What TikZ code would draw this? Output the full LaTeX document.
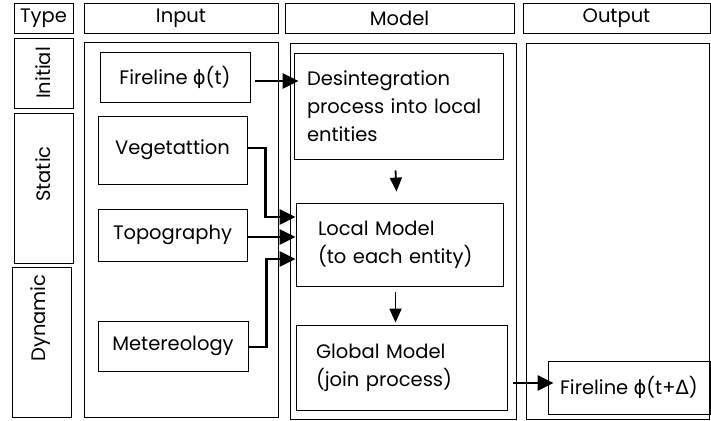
\documentclass[tikz,border=0pt]{standalone}
\usepackage{fontspec}
\setmainfont{Poppins}
\newfontfamily\greekfont{DejaVu Sans}
\usepackage{tikz}
\usetikzlibrary{calc, arrows.meta}

\tikzset{
  box/.style={draw, line width=0.8pt, inner sep=0pt},
  flow/.style={line width=2.8pt, -{Triangle[length=16pt,width=15pt]}},
  step arrow/.style={line width=1.8pt, -{Triangle[length=14pt,width=12pt]}},
}

\begin{document}
\begin{tikzpicture}[x=1pt, y=-1pt, font=\fontsize{19.5}{28}\selectfont]
\useasboundingbox (0,0) rectangle (711,420);
% header row
\node at (43.5,18) [box, name=type, minimum width=59, minimum height=30] {Type};
\node at (181,18) [box, name=inhead, minimum width=194, minimum height=30] {Input};
\node at (399.5,18) [box, name=modhead, minimum width=229, minimum height=30] {Model};
\node at (616.5,18) [box, name=outhead, minimum width=187, minimum height=30] {Output};
% type column
\node at (43.5,73) [box, name=initial, minimum width=59, minimum height=70] {};
\node at (43.5,188) [box, name=static, minimum width=59, minimum height=150] {};
\node at (41.5,342) [box, name=dynamic, minimum width=59, minimum height=150] {};
\node at (43,73) [rotate=90, name=initlab] {Initial};
\node at (43,174) [rotate=90, name=statlab] {Static};
\node at (41,318) [rotate=90, name=dynlab] {Dynamic};
% panels
\node at (181,230) [box, name=inpanel, minimum width=194, minimum height=375] {};
\node at (403,231) [box, name=modpanel, minimum width=226, minimum height=376] {};
\node at (617.5,231) [box, name=outpanel, minimum width=183, minimum height=376] {};
% input boxes
\node at (175,77) [box, name=fire, minimum width=150, minimum height=50] {Fireline {\greekfont ϕ}(t)};
\node at (172.5,150) [box, name=veg, minimum width=149, minimum height=68] {Vegetattion};
\node at (172.5,235) [box, name=topo, minimum width=149, minimum height=52] {Topography};
\node at (173,346) [box, name=meteo, minimum width=150, minimum height=50] {Metereology};
% model boxes
\node at (398.5,106) [box, name=desint, minimum height=106, text width=183, inner xsep=13, align=left] {Desintegration\\process into local\\entities};
\node at (399.5,244.5) [box, name=local, minimum height=83, text width=163, inner xsep=22, align=left] {Local Model\\(to each entity)};
\node at (401.5,367.5) [box, name=global, minimum height=85, text width=171, inner xsep=20, align=left] {Global Model\\(join process)};
% output box
\node at (629,387.5) [box, name=newfire, minimum width=162, minimum height=53] {Fireline {\greekfont ϕ}(t+{\greekfont Δ})};
% connectors
\draw [flow] ([xshift=5pt,yshift=-4pt]fire.east) -- ([xshift=5pt,yshift=-4pt]fire.east -| desint.west);
\draw [flow] ([yshift=2pt]veg.east) -- ++(18,0) |- ([yshift=27.5pt]local.west);
\draw [flow] ([yshift=-2pt]topo.east) -- ([yshift=-2pt]topo.east -| local.west);
\draw [flow] ([yshift=-1pt]meteo.east) -- ++(18,0) |- ([yshift=-14.5pt]local.west);
\draw [step arrow] ([xshift=-3pt,yshift=-11pt]desint.south) -- ([xshift=-3pt,yshift=11pt]local.north);
\draw [step arrow] ([xshift=-4pt,yshift=-6pt]local.south) -- ([xshift=-6pt,yshift=2pt]global.north);
\draw [flow] ([xshift=6pt,yshift=-15.5pt]global.east) -- ([xshift=6pt,yshift=-15.5pt]global.east -| newfire.west);
\end{tikzpicture}
\end{document}
